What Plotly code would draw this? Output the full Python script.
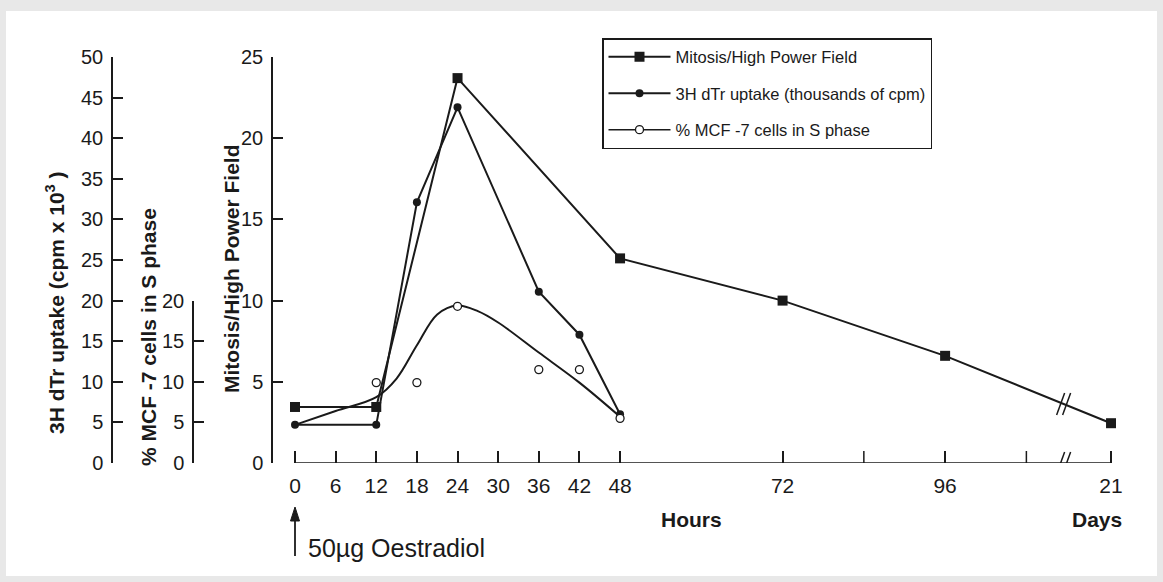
import plotly.graph_objects as go

# ---------------- data ----------------
# x positions in hours; the last mitosis point is "21 days", drawn past an axis break
DAY21_POS = 120.5          # axis position used for the "21 days" category
BREAK_POS = 113.5          # axis position of the // break marks

mitosis_hours = [0, 12, 24, 48, 72, 96, DAY21_POS]
mitosis_vals = [3.45, 3.45, 23.7, 12.6, 10.0, 6.6, 2.45]

uptake_hours = [0, 12, 18, 24, 36, 42, 48]
uptake_vals = [4.7, 4.7, 32.1, 43.8, 21.1, 15.8, 6.0]          # thousands of cpm

sphase_hours = [12, 18, 24, 36, 42, 48]
sphase_vals = [9.9, 9.9, 19.3, 11.5, 11.5, 5.5]                # % cells in S phase

# hand-drawn smooth curve through the S-phase data
sphase_curve_hours = [0, 6, 12, 15, 18, 21, 24, 27, 30, 36, 42, 48]
sphase_curve_vals = [4.7, 6.4, 8.1, 10.4, 14.5, 18.3, 19.4, 18.7, 17.3, 13.6, 9.9, 5.7]

x_tickvals = [0, 6, 12, 18, 24, 30, 36, 42, 48, 72, 96, DAY21_POS]
x_ticktext = ["0", "6", "12", "18", "24", "30", "36", "42", "48", "72", "96", "21"]
x_minor_ticks = [84, 108]   # unlabelled ticks

mitosis_ticks = [0, 5, 10, 15, 20, 25]
uptake_ticks = [0, 5, 10, 15, 20, 25, 30, 35, 40, 45, 50]
sphase_ticks = [0, 5, 10, 15, 20]

# ---------------- layout geometry ----------------
W, H = 1163, 582
FONT = "Liberation Sans, Arial, Helvetica, sans-serif"
INK = "#1a1a1a"

y_bot_px, y_top_px = 463, 57
ydom = [1 - y_bot_px / H, 1 - y_top_px / H]
y3dom = [ydom[0], ydom[0] + 0.4 * (ydom[1] - ydom[0])]
x_left_px, x_right_px = 273, 1128
px_per_hour = 6.772
x0_px = 295
xrange_ = [(x_left_px - x0_px) / px_per_hour, (x_right_px - x0_px) / px_per_hour]

fig = go.Figure()

fig.add_trace(go.Scatter(
    x=mitosis_hours, y=mitosis_vals, mode="lines+markers",
    name="Mitosis/High Power Field",
    line=dict(color=INK, width=2),
    marker=dict(symbol="square", size=10, color=INK),
    yaxis="y", cliponaxis=False, legendgroup="a"))

fig.add_trace(go.Scatter(
    x=uptake_hours, y=uptake_vals, mode="lines+markers",
    name="3H dTr uptake (thousands of cpm)",
    line=dict(color=INK, width=2),
    marker=dict(symbol="circle", size=8, color=INK),
    yaxis="y2", cliponaxis=False, legendgroup="b"))

fig.add_trace(go.Scatter(
    x=sphase_curve_hours, y=sphase_curve_vals, mode="lines",
    line=dict(color=INK, width=2, shape="spline", smoothing=1.0),
    showlegend=False, yaxis="y3", cliponaxis=False, hoverinfo="skip"))

fig.add_trace(go.Scatter(
    x=sphase_hours, y=sphase_vals, mode="markers",
    marker=dict(symbol="circle", size=8, color="white",
                line=dict(color=INK, width=1.3)),
    showlegend=False, yaxis="y3", cliponaxis=False))

# legend entry for the S-phase series (line with open circles)
fig.add_trace(go.Scatter(
    x=[None], y=[None], mode="lines+markers",
    name="% MCF -7 cells in S phase",
    line=dict(color=INK, width=1.5),
    marker=dict(symbol="circle", size=8, color="white",
                line=dict(color=INK, width=1.3)),
    yaxis="y3", legendgroup="c"))

axis_common = dict(showgrid=False, zeroline=False, showline=True, automargin=False,
                   linecolor=INK, linewidth=1.5, ticks="inside", ticklen=10,
                   tickwidth=1.5, tickcolor=INK, ticklabelstandoff=4,
                   tickfont=dict(family=FONT, size=20, color=INK))

fig.update_layout(
    width=W, height=H, autosize=False,
    margin=dict(l=0, r=0, t=0, b=0, pad=0),
    paper_bgcolor="#e8e8e8", plot_bgcolor="rgba(0,0,0,0)",
    font=dict(family=FONT, color=INK),
    showlegend=True,
    xaxis=dict(domain=[x_left_px / W, x_right_px / W], range=xrange_,
               showgrid=False, zeroline=False, showline=False, automargin=False,
               ticks="inside", ticklen=12, tickwidth=1.5, tickcolor=INK,
               tickvals=x_tickvals, ticktext=x_ticktext, ticklabelstandoff=8,
               tickfont=dict(family=FONT, size=21, color=INK), anchor="y"),
    yaxis=dict(domain=ydom, range=[0, 25], tickvals=mitosis_ticks,
               anchor="x", **axis_common),
    yaxis2=dict(range=[0, 50], tickvals=uptake_ticks, overlaying="y",
                anchor="free", position=112 / W, side="left", **axis_common),
    yaxis3=dict(domain=y3dom, range=[0, 20], tickvals=sphase_ticks,
                anchor="free", position=193 / W, side="left", **axis_common),
    legend=dict(x=602 / W, y=1 - 38 / H, xanchor="left", yanchor="top",
                bgcolor="white", bordercolor=INK, borderwidth=1.5,
                font=dict(family=FONT, size=16.5, color=INK),
                tracegroupgap=12, itemwidth=62),
)

# page frame (scanned look)
shapes = [dict(type="rect", xref="paper", yref="paper",
               x0=6 / W, x1=1157 / W, y0=1 - 576 / H, y1=1 - 11 / H,
               fillcolor="white", line=dict(width=0), layer="below")]

# x-axis baseline from 0 h to the 21-day tick
shapes.append(dict(type="line", xref="x", yref="y", x0=0, x1=DAY21_POS,
                   y0=0, y1=0, line=dict(color=INK, width=1.5)))

# unlabelled ticks
for h in x_minor_ticks:
    shapes.append(dict(type="line", xref="x", yref="y", ysizemode="pixel",
                       yanchor=0, x0=h, x1=h, y0=0, y1=12,
                       line=dict(color=INK, width=1.5)))

# break marks "//" on the axis and on the mitosis line
i96 = mitosis_hours.index(96)
t = (BREAK_POS - mitosis_hours[i96]) / (mitosis_hours[i96 + 1] - mitosis_hours[i96])
y_break = mitosis_vals[i96] + t * (mitosis_vals[i96 + 1] - mitosis_vals[i96])
for yref_val in (0, y_break):
    for off in (-3, 3):
        shapes.append(dict(type="line", xref="x", yref="y",
                           xsizemode="pixel", ysizemode="pixel",
                           xanchor=BREAK_POS, yanchor=yref_val,
                           x0=off - 4, x1=off + 4, y0=-11, y1=11,
                           line=dict(color=INK, width=1.5)))

# arrow marking the oestradiol dose at 0 h
shapes.append(dict(type="line", xref="x", yref="paper", xsizemode="pixel",
                   xanchor=0, x0=0, x1=0, y0=1 - 556 / H, y1=1 - 516 / H,
                   line=dict(color=INK, width=1.8)))
shapes.append(dict(type="path", xref="x", yref="paper",
                   xsizemode="pixel", ysizemode="pixel",
                   xanchor=0, yanchor=1 - 507 / H,
                   path="M -4.5,-14 L 4.5,-14 L 0,0 Z",
                   fillcolor=INK, line=dict(color=INK, width=1)))
fig.update_layout(shapes=shapes)

title_font = dict(family=FONT, size=21, color=INK)


def ann(text, x_px, y_px, size=21, angle=0, xanchor="center"):
    return dict(text=text, x=x_px / W, y=1 - y_px / H, xref="paper", yref="paper",
                xanchor=xanchor, yanchor="middle", textangle=angle,
                showarrow=False, font=dict(family=FONT, size=size, color=INK))


annotations = [
    ann("<b>3H dTr uptake (cpm x 10<sup>3</sup> )</b>", 55, 303, angle=-90),
    ann("<b>% MCF -7 cells in S phase</b>", 148, 337, angle=-90),
    ann("<b>Mitosis/High Power Field</b>", 231, 269, angle=-90),
    ann("<b>Hours</b>", 691, 519),
    ann("<b>Days</b>", 1097, 519),
    ann("50µg Oestradiol", 306, 548, size=25, xanchor="left"),
]
fig.update_layout(annotations=annotations)

fig.write_html("out.html", config={"displayModeBar": False},
               post_script="document.body.style.margin='0px';")
